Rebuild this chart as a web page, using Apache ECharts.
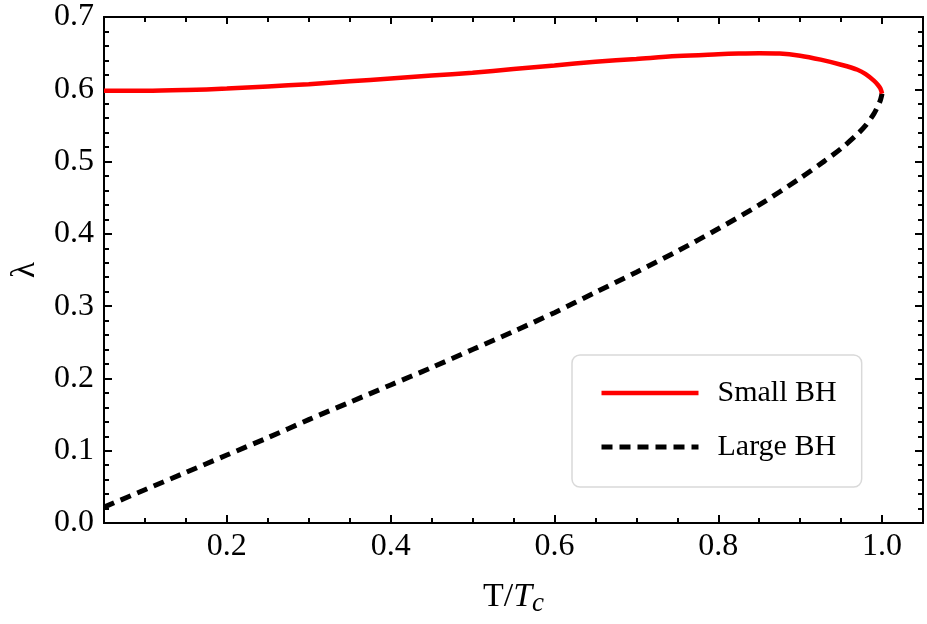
<!DOCTYPE html>
<html>
<head>
<meta charset="utf-8">
<script src="https://cdn.jsdelivr.net/npm/echarts@6/dist/echarts.min.js"></script>
<style>
  html, body { margin: 0; padding: 0; background: #fff; }
  #chart { width: 927px; height: 624px; }
</style>
</head>
<body>
<div id="chart"></div>
<script>
// ---- data ----
const smallT = [0.05, 0.10, 0.15, 0.20, 0.25, 0.30, 0.35, 0.40, 0.45, 0.50, 0.55, 0.60, 0.65, 0.70, 0.75, 0.80, 0.825, 0.85, 0.875, 0.90, 0.925, 0.95, 0.97, 0.98, 0.99, 0.995, 0.998, 1.00];
const smallL = [0.598, 0.598, 0.599, 0.601, 0.604, 0.607, 0.611, 0.615, 0.619, 0.623, 0.628, 0.633, 0.638, 0.642, 0.646, 0.6485, 0.6495, 0.650, 0.6495, 0.6465, 0.641, 0.634, 0.627, 0.621, 0.612, 0.606, 0.601, 0.594];
const largeT = [0.05, 0.10, 0.15, 0.20, 0.25, 0.30, 0.35, 0.40, 0.45, 0.50, 0.55, 0.60, 0.65, 0.70, 0.75, 0.80, 0.85, 0.90, 0.93, 0.95, 0.97, 0.98, 0.99, 0.995, 0.998, 1.00];
const largeL = [0.022, 0.046, 0.070, 0.094, 0.118, 0.143, 0.167, 0.191, 0.215, 0.240, 0.265, 0.291, 0.319, 0.347, 0.376, 0.407, 0.440, 0.477, 0.501, 0.518, 0.538, 0.550, 0.566, 0.577, 0.585, 0.594];
const seriesNames = ['Small BH', 'Large BH'];
const xMajorTicks = [0.2, 0.4, 0.6, 0.8, 1.0];
const xMinorTicks = [0.05, 0.1, 0.15, 0.25, 0.3, 0.35, 0.45, 0.5, 0.55, 0.65, 0.7, 0.75, 0.85, 0.9, 0.95, 1.05];
const xRange = [0.05, 1.05];
const yRange = [0, 0.7];

const FONT = "'Liberation Serif', 'DejaVu Serif', serif";
const pair = (xs, ys) => xs.map((x, i) => [x, ys[i]]);
const RED_LINE = { color: '#ff0000', width: 4.5, cap: 'butt' };
const BLACK_LINE = { color: '#000', width: 5, type: [11, 7], cap: 'butt' };

function xAx(pos, ticks, len, labels) {
  return {
    type: 'value', position: pos, min: xRange[0], max: xRange[1],
    axisLine: { show: true, onZero: false, lineStyle: { color: '#000', width: 2 } },
    axisTick: { show: true, inside: true, length: len, customValues: ticks, lineStyle: { color: '#000', width: 2 } },
    axisLabel: labels ? { show: true, customValues: ticks, margin: 8, color: '#000', fontFamily: FONT, fontSize: 32,
      formatter: v => v.toFixed(1) } : { show: false },
    splitLine: { show: false }
  };
}
function yAx(pos, labels) {
  return {
    type: 'value', position: pos, min: yRange[0], max: yRange[1], interval: 0.1,
    axisLine: { show: true, onZero: false, lineStyle: { color: '#000', width: 2 } },
    axisTick: { show: true, inside: true, length: 8, lineStyle: { color: '#000', width: 2 } },
    minorTick: { show: true, splitNumber: 5, length: 5, lineStyle: { color: '#000', width: 2 } },
    axisLabel: labels ? { show: true, margin: 10, color: '#000', fontFamily: FONT, fontSize: 32,
      formatter: v => v.toFixed(1) } : { show: false },
    splitLine: { show: false }, minorSplitLine: { show: false }
  };
}

const chart = echarts.init(document.getElementById('chart'), null, { renderer: 'canvas' });
const xMain = xAx('bottom', xMajorTicks, 8, true);
xMain.name = '{a|T/}{b|T}{c|c}';
xMain.nameLocation = 'middle';
xMain.nameGap = 55;
xMain.nameTextStyle = {
  fontFamily: FONT, color: '#000',
  rich: {
    a: { fontFamily: FONT, fontSize: 34, color: '#000' },
    b: { fontFamily: FONT, fontSize: 34, fontStyle: 'italic', color: '#000' },
    c: { fontFamily: FONT, fontSize: 27, fontStyle: 'italic', color: '#000', padding: [12, 0, 0, 0] }
  }
};
const yMain = yAx('left', true);
yMain.name = 'λ';
yMain.nameLocation = 'middle';
yMain.nameRotate = 90;
yMain.nameGap = 62;
yMain.nameTextStyle = { fontFamily: FONT, fontSize: 33, color: '#000' };

chart.setOption({
  backgroundColor: '#fff',
  animation: false,
  grid: { left: 104, right: 4, top: 17, bottom: 101, containLabel: false },
  xAxis: [
    xMain,
    xAx('bottom', xMinorTicks, 5, false),
    xAx('top', xMajorTicks, 7, false),
    xAx('top', xMinorTicks, 5, false)
  ],
  yAxis: [yMain, yAx('right', false)],
  legend: {
    orient: 'vertical', left: 572, top: 355,
    padding: [23, 25, 25, 27],
    itemWidth: 97, itemHeight: 12, itemGap: 24,
    borderColor: '#d9d9d9', borderWidth: 1.5, borderRadius: 8,
    backgroundColor: '#fff',
    itemStyle: { opacity: 0 },
    textStyle: { fontFamily: FONT, fontSize: 30, color: '#000', lineHeight: 30, padding: [0, 0, 0, 14] },
    data: [
      { name: seriesNames[0], lineStyle: RED_LINE },
      { name: seriesNames[1], lineStyle: BLACK_LINE }
    ]
  },
  series: [
    {
      name: seriesNames[0], type: 'line', xAxisIndex: 0, yAxisIndex: 0,
      data: pair(smallT, smallL), showSymbol: false, symbol: 'none', smooth: 0.35,
      lineStyle: RED_LINE, itemStyle: { color: '#ff0000' }, z: 3
    },
    {
      name: seriesNames[1], type: 'line', xAxisIndex: 0, yAxisIndex: 0,
      data: pair(largeT, largeL), showSymbol: false, symbol: 'none', smooth: 0.3,
      lineStyle: BLACK_LINE, itemStyle: { color: '#000' }, z: 2
    }
  ]
});
</script>
</body>
</html>
